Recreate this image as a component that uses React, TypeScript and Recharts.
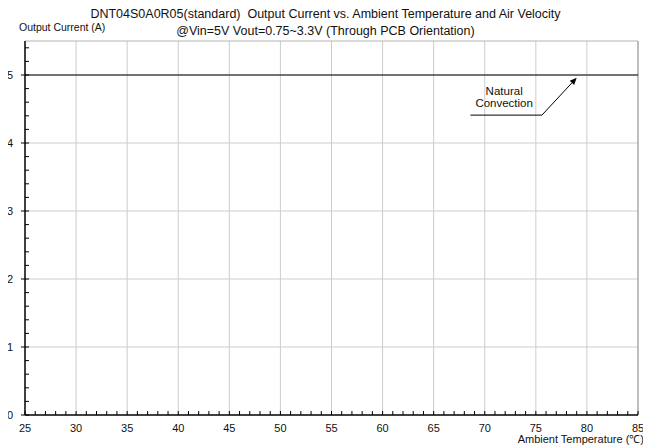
import { LineChart, Line, XAxis, YAxis, ReferenceLine, ReferenceDot } from "recharts";

// chart data
const temps = [25, 85];
const currents = [5, 5];

const xMajor = [25, 30, 35, 40, 45, 50, 55, 60, 65, 70, 75, 80, 85];
const yMajor = [0, 1, 2, 3, 4, 5];
const xMinor = Array.from({ length: 61 }, (_, i) => 25 + i);
const yMinor = Array.from({ length: 28 }, (_, i) => Math.round(i * 2) / 10);

// annotation (data coords)
const noteText = ["Natural", "Convection"];
const noteAt = { x: 71.9, y: 4.66 };
const underline = [
  { x: 68.6, y: 4.41 },
  { x: 75.6, y: 4.41 },
];
const arrowTip = { x: 79.0, y: 4.96 };

const data = temps.map((t, i) => ({ temp: t, current: currents[i] }));

const FONT = '"Liberation Sans", Arial, sans-serif';

const XTick = (props: any) => {
  const { x, y, payload } = props;
  const v = payload.value;
  const major = v % 5 === 0;
  return (
    <g>
      <line x1={x} y1={y} x2={x} y2={y - 4} stroke="#000" />
      {major && (
        <text x={x} y={y + 17} textAnchor="middle" fontSize={11} fill="#111" fontFamily={FONT}>
          {v}
        </text>
      )}
    </g>
  );
};

const YTick = (props: any) => {
  const { x, y, payload } = props;
  const v = payload.value;
  const major = Number.isInteger(v);
  return (
    <g>
      <line x1={x} y1={y} x2={x + 4} y2={y} stroke="#000" />
      {major && <line x1={x} y1={y} x2={x - 4} y2={y} stroke="#000" />}
      {major && (
        <text x={x - 12} y={y} dy="0.35em" textAnchor="end" fontSize={11} fill="#111" fontFamily={FONT}>
          {v}
        </text>
      )}
    </g>
  );
};

const Arrow = (props: any) => {
  const { x1, y1, x2, y2 } = props;
  const ang = Math.atan2(y2 - y1, x2 - x1);
  const len = 7;
  const w = 3;
  const bx = x2 - len * Math.cos(ang);
  const by = y2 - len * Math.sin(ang);
  const px = -Math.sin(ang) * w;
  const py = Math.cos(ang) * w;
  return (
    <g>
      <line x1={x1} y1={y1} x2={bx} y2={by} stroke="#000" strokeWidth={1} />
      <polygon points={`${x2},${y2} ${bx + px},${by + py} ${bx - px},${by - py}`} fill="#000" />
    </g>
  );
};

const NoteLabel = (props: any) => {
  const { cx, cy } = props;
  return (
    <text x={cx} y={cy} textAnchor="middle" fontSize={11.5} fill="#111" fontFamily={FONT}>
      <tspan x={cx} dy="-0.3em">{noteText[0]}</tspan>
      <tspan x={cx} dy="1.1em">{noteText[1]}</tspan>
    </text>
  );
};

export default function App() {
  return (
    <div
      style={{
        position: "relative",
        width: 651,
        height: 445,
        margin: "-8px 0 0 -8px",
        background: "#fff",
        fontFamily: FONT,
        color: "#111",
        overflow: "hidden",
      }}
    >
      <LineChart width={651} height={445} data={data} margin={{ top: 41, right: 13, bottom: 0, left: 0 }}>
        <XAxis
          dataKey="temp"
          type="number"
          domain={[25, 85]}
          ticks={xMinor}
          interval={0}
          height={30}
          tickSize={0}
          tickMargin={0}
          tickLine={false}
          tick={<XTick />}
          axisLine={{ stroke: "#000", strokeWidth: 1.5 }}
        />
        <YAxis
          type="number"
          domain={[0, 5.5]}
          ticks={yMinor}
          interval={0}
          width={25}
          tickSize={0}
          tickMargin={0}
          tickLine={false}
          tick={<YTick />}
          axisLine={{ stroke: "#000", strokeWidth: 1.5 }}
        />
        {xMajor.slice(1, -1).map((v) => (
          <ReferenceLine key={"gx" + v} x={v} stroke="#cdcdcd" />
        ))}
        {yMajor.slice(1).map((v) => (
          <ReferenceLine key={"gy" + v} y={v} stroke="#cdcdcd" />
        ))}
        <ReferenceLine y={5.5} stroke="#b4b4b4" />
        <ReferenceLine x={85} stroke="#a8a8a8" strokeWidth={1.5} />
        <Line
          dataKey="current"
          stroke="#000"
          strokeWidth={1.2}
          dot={false}
          isAnimationActive={false}
        />
        <ReferenceLine
          segment={[underline[0], underline[1]]}
          stroke="#000"
          strokeWidth={1}
        />
        <ReferenceLine segment={[underline[1], arrowTip]} shape={<Arrow />} />
        <ReferenceDot x={noteAt.x} y={noteAt.y} r={0} shape={<NoteLabel />} />
      </LineChart>
      <div
        style={{
          position: "absolute",
          left: 0,
          width: 651,
          top: 8,
          textAlign: "center",
          fontSize: 12.5,
          lineHeight: "13px",
          whiteSpace: "pre",
        }}
      >
        {"DNT04S0A0R05(standard)  Output Current vs. Ambient Temperature and Air Velocity"}
      </div>
      <div
        style={{
          position: "absolute",
          left: 0,
          width: 651,
          top: 24,
          textAlign: "center",
          fontSize: 12.5,
          lineHeight: "15px",
          whiteSpace: "pre",
        }}
      >
        {"@Vin=5V Vout=0.75~3.3V (Through PCB Orientation)"}
      </div>
      <div
        style={{
          position: "absolute",
          left: 19,
          top: 21,
          fontSize: 10.5,
          lineHeight: "12px",
          whiteSpace: "nowrap",
        }}
      >
        Output Current (A)
      </div>
      <div
        style={{
          position: "absolute",
          right: 7,
          width: 200,
          top: 434,
          textAlign: "right",
          fontSize: 11,
          lineHeight: "11px",
          whiteSpace: "nowrap",
        }}
      >
        Ambient Temperature (℃)
      </div>
    </div>
  );
}
